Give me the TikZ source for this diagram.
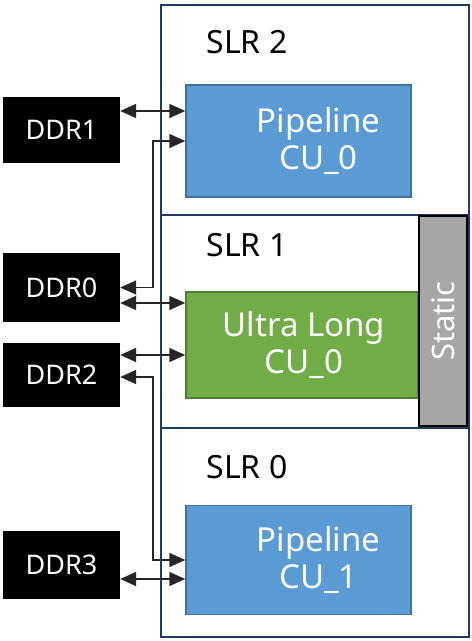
\documentclass[tikz,border=0pt]{standalone}
\usepackage{fontspec}
\setmainfont{Noto Sans}
\usetikzlibrary{positioning,calc,arrows.meta}
\definecolor{cublue}{HTML}{5B9BD5}
\definecolor{cuedge}{HTML}{41719C}
\definecolor{ulgreen}{HTML}{70AD47}
\definecolor{uledge}{HTML}{507E32}
\definecolor{slrnavy}{HTML}{1F3864}
\tikzstyle{line}=[draw=black!85, line width=1.5pt, {Triangle[length=16pt,width=14pt]}-{Triangle[length=16pt,width=14pt]}]
\tikzstyle{ddr}=[fill=black, text=white, minimum width=117pt, font=\fontsize{27}{30}\selectfont]
\tikzstyle{cu}=[draw=cuedge, line width=1.5pt, fill=cublue]
\tikzstyle{cutext}=[text=white, align=center, font=\fontsize{33}{37}\selectfont]
\tikzstyle{slr}=[anchor=west, font=\fontsize{32}{36}\selectfont]

\begin{document}
\begin{tikzpicture}[x=1pt,y=-1pt]
    \useasboundingbox (0,0) rectangle (472,641);
    % SLR frame
    \draw[slrnavy, line width=2pt] (161,5) rectangle (469,637);
    \draw[slrnavy, line width=2pt] (161,215) -- (469,215);
    \draw[slrnavy, line width=2pt] (161,428) -- (469,428);
    \node[slr] (s2) at (203,42) {SLR 2};
    \node[slr] (s1) at (203,245) {SLR 1};
    \node[slr] (s0) at (203,467) {SLR 0};
    % compute units
    \node[cu, minimum width=225pt, minimum height=112pt] (cu0) at (298.5,141) {};
    \node[cutext] at ([xshift=20pt]cu0) {Pipeline \\ CU\_0};
    \node[cu, draw=uledge, fill=ulgreen, minimum width=232pt, minimum height=106pt] (ul) at (302,345) {};
    \node[cutext] at ([xshift=2pt]ul) {Ultra Long \\ CU\_0};
    \node[cu, minimum width=225pt, minimum height=109pt] (cu1) at (298.5,560) {};
    \node[cutext] at ([xshift=20pt]cu1) {Pipeline \\ CU\_1};
    \node[draw=black, line width=1.5pt, fill=black!35, text=white, minimum width=48pt, minimum height=210pt, font=\fontsize{31}{34}\selectfont] (st) at (443,321) {\rotatebox{90}{Static}};
    % memory banks
    \node[ddr, minimum height=66pt] (ddr1) at (61.5,130) {DDR1};
    \node[ddr, minimum height=69pt] (ddr0) at (61.5,287.5) {DDR0};
    \node[ddr, minimum height=64pt] (ddr2) at (61.5,375) {DDR2};
    \node[ddr, minimum height=68pt] (ddr3) at (61.5,565) {DDR3};
    % connections
    \path[line] ([yshift=19pt]ddr1.east) -- ([yshift=19pt]ddr1.east -| cu0.west);
    \path[line] (ddr0.east) -- ++(33,0) |- (cu0.west);
    \path[line] ([yshift=-15.5pt]ddr0.east) -- ([yshift=-15.5pt]ddr0.east -| ul.west);
    \path[line] ([yshift=20pt]ddr2.east) -- ([yshift=20pt]ddr2.east -| ul.west);
    \path[line] ([yshift=-2pt]ddr2.east) -- ++(33,0) |- (cu1.west);
    \path[line] ([yshift=-14pt]ddr3.east) -- ([yshift=-14pt]ddr3.east -| cu1.west);
\end{tikzpicture}
\end{document}
